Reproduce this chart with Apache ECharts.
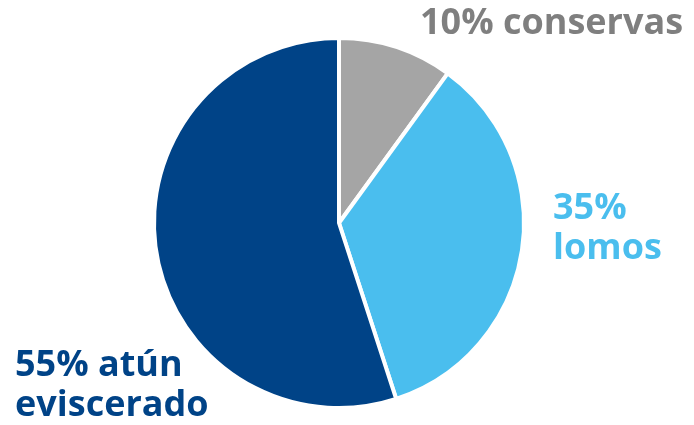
<!DOCTYPE html>
<html><head><meta charset="utf-8">
<script src="https://cdn.jsdelivr.net/npm/echarts@6/dist/echarts.min.js"></script>
<style>html,body{margin:0;padding:0;background:#fff}#c{width:694px;height:425px}</style>
</head><body><div id="c"></div>
<script>
const categories = ['conservas', 'lomos', 'atún eviscerado'];
const values = [10, 35, 55];
const labelTexts = ['10% conservas', '35%\nlomos', '55% atún\neviscerado'];
const sliceColors = ['#A5A5A5', '#4ABEEE', '#004387'];
const textColors = ['#7F7F7F', '#4ABEEE', '#004387'];
const labelPos = [[420, 24], [553, 229], [15, 386]];

const chart = echarts.init(document.getElementById('c'));
chart.setOption({
  animation: false,
  series: [{
    type: 'pie',
    center: [339, 223],
    radius: 185,
    startAngle: 90,
    clockwise: true,
    itemStyle: { borderColor: '#fff', borderWidth: 4 },
    label: {
      show: true,
      formatter: p => labelTexts[p.dataIndex],
      fontFamily: 'Open Sans',
      fontWeight: 'bold',
      fontSize: 36,
      lineHeight: 40,
      overflow: 'none',
      width: 400
    },
    labelLine: { show: false },
    labelLayout: p => ({ x: labelPos[p.dataIndex][0], y: labelPos[p.dataIndex][1], align: 'left', verticalAlign: 'middle' }),
    data: categories.map((c, i) => ({
      name: c, value: values[i],
      itemStyle: { color: sliceColors[i] },
      label: { color: textColors[i] }
    }))
  }]
});
</script></body></html>
